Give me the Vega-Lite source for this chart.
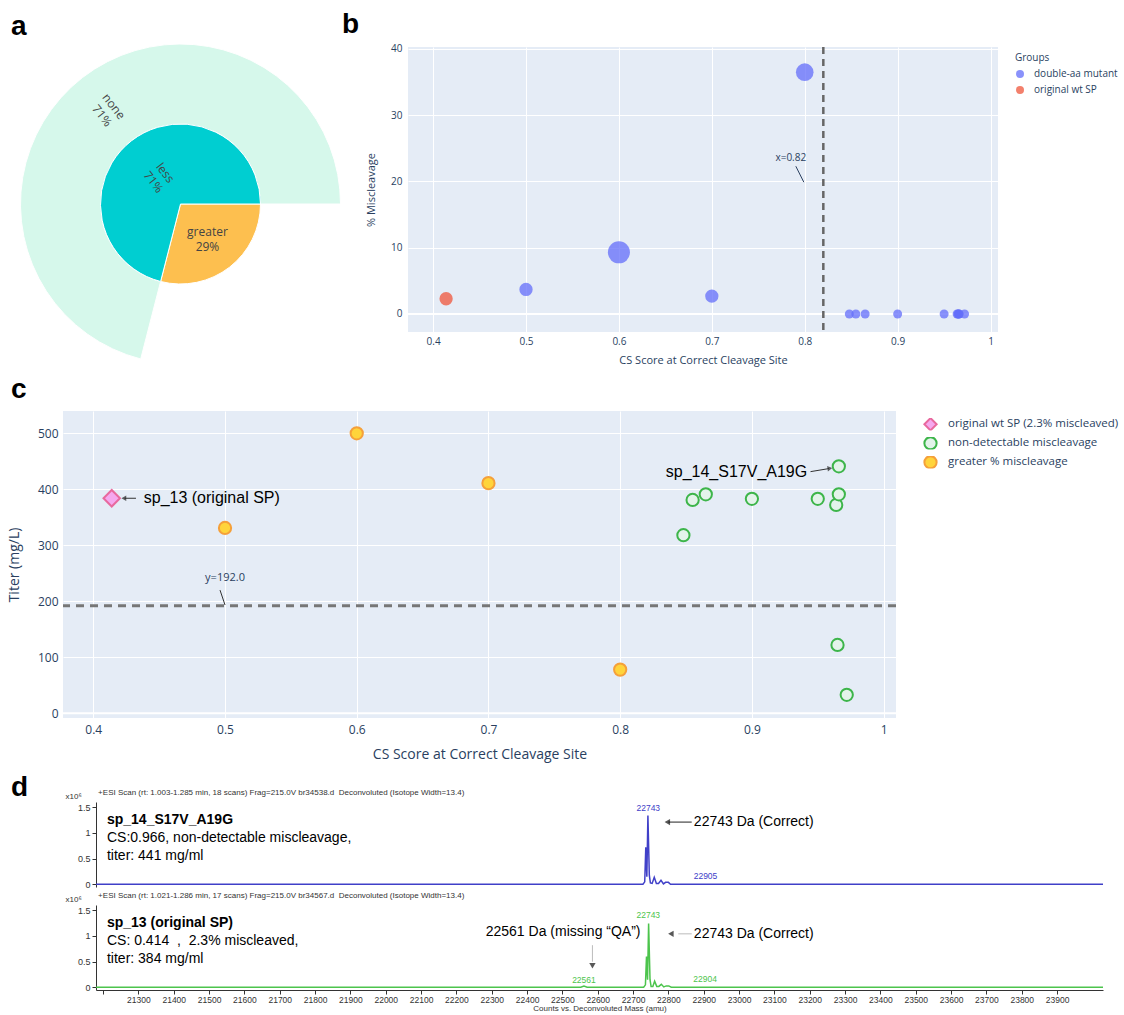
{
  "$schema": "https://vega.github.io/schema/vega-lite/v6.json",
  "background": "white",
  "padding": {"left": 7, "top": 10, "right": 0, "bottom": 0},
  "config": {
    "view": {"stroke": null},
    "font": "Open Sans",
    "axis": {"domain": false, "ticks": false, "gridColor": "white", "gridWidth": 1, "labelColor": "#2a3f5f", "titleColor": "#2a3f5f", "titleFontWeight": "normal", "labelFont": "Open Sans", "titleFont": "Open Sans"},
    "axisX": {"labelOverlap": false},
    "legend": {"labelFont": "Open Sans", "titleFont": "Open Sans"},
    "title": {"font": "Liberation Sans", "fontSize": 28, "fontWeight": "bold", "anchor": "start", "frame": "group", "baseline": "alphabetic", "color": "black"}
  },
  "datasets": {
    "cpts": [
      {"cs": 0.414, "titer": 384, "group": "original wt SP (2.3% miscleaved)"},
      {"cs": 0.848, "titer": 318, "group": "non-detectable miscleavage"},
      {"cs": 0.855, "titer": 381, "group": "non-detectable miscleavage"},
      {"cs": 0.865, "titer": 391, "group": "non-detectable miscleavage"},
      {"cs": 0.9, "titer": 383, "group": "non-detectable miscleavage"},
      {"cs": 0.95, "titer": 383, "group": "non-detectable miscleavage"},
      {"cs": 0.964, "titer": 372, "group": "non-detectable miscleavage"},
      {"cs": 0.966, "titer": 391, "group": "non-detectable miscleavage"},
      {"cs": 0.966, "titer": 441, "group": "non-detectable miscleavage"},
      {"cs": 0.965, "titer": 122, "group": "non-detectable miscleavage"},
      {"cs": 0.972, "titer": 33, "group": "non-detectable miscleavage"},
      {"cs": 0.5, "titer": 331, "group": "greater % miscleavage"},
      {"cs": 0.6, "titer": 500, "group": "greater % miscleavage"},
      {"cs": 0.7, "titer": 411, "group": "greater % miscleavage"},
      {"cs": 0.8, "titer": 78, "group": "greater % miscleavage"}
    ]
  },
  "bounds": "full",
  "spacing": 11,
  "resolve": {"scale": {"x": "independent", "y": "independent", "color": "independent", "fill": "independent", "stroke": "independent", "shape": "independent", "size": "independent", "theta": "independent"}, "legend": {"color": "independent", "fill": "independent", "stroke": "independent", "shape": "independent", "size": "independent"}},
  "vconcat": [
    {
      "bounds": "flush",
      "spacing": 110,
      "resolve": {"scale": {"x": "independent", "y": "independent", "color": "independent", "fill": "independent", "stroke": "independent", "shape": "independent", "size": "independent", "theta": "independent"}, "legend": {"color": "independent", "fill": "independent", "stroke": "independent", "shape": "independent", "size": "independent"}},
      "hconcat": [
        {
          "width": 235,
          "height": 314,
          "title": {"text": "a", "dx": -52, "offset": 1},
          "data": {"values": [
            {"ring": "inner", "label": "greater", "value": 29},
            {"ring": "inner", "label": "less", "value": 71},
            {"ring": "outer", "label": "none", "value": 71}
          ]},
          "transform": [{"calculate": "datum.label + '\\n' + datum.value + '%'", "as": "txt"}],
          "layer": [
            {
              "transform": [{"filter": "datum.ring === 'outer'"}],
              "mark": {"type": "arc", "radius": 160, "radius2": 80, "stroke": "white", "strokeWidth": 1},
              "encoding": {
                "theta": {"field": "value", "type": "quantitative", "stack": true, "scale": {"domain": [0, 71], "range": [3.3929, 7.854]}},
                "color": {"field": "label", "type": "nominal", "scale": {"domain": ["greater", "less", "none"], "range": ["#FDBF4F", "#00CED1", "#D6F8EB"]}, "legend": null}
              }
            },
            {
              "transform": [{"filter": "datum.ring === 'outer'"}],
              "mark": {"type": "text", "radius": 118, "angle": 52, "dy": -7, "lineHeight": 15, "lineBreak": "\n", "fontSize": 12, "color": "#444", "font": "Open Sans"},
              "encoding": {
                "theta": {"field": "value", "type": "quantitative", "stack": true, "scale": {"domain": [0, 71], "range": [3.3929, 7.854]}},
                "text": {"field": "txt"}
              }
            },
            {
              "transform": [{"filter": "datum.ring === 'inner'"}],
              "mark": {"type": "arc", "radius": 80, "stroke": "white", "strokeWidth": 1},
              "encoding": {
                "theta": {"field": "value", "type": "quantitative", "stack": true, "scale": {"domain": [0, 100], "range": [1.5708, 7.854]}},
                "order": {"field": "label", "sort": "ascending"},
                "color": {"field": "label", "type": "nominal", "scale": {"domain": ["greater", "less", "none"], "range": ["#FDBF4F", "#00CED1", "#D6F8EB"]}, "legend": null}
              }
            },
            {
              "transform": [{"filter": "datum.ring === 'inner'"}],
              "mark": {"type": "text", "radius": 34, "angle": 52, "dy": -7, "lineHeight": 15, "lineBreak": "\n", "fontSize": 12, "color": "#444", "font": "Open Sans"},
              "encoding": {
                "theta": {"field": "value", "type": "quantitative", "stack": true, "scale": {"domain": [0, 100], "range": [1.5708, 7.854]}},
                "order": {"field": "label", "sort": "ascending"},
                "text": {"condition": {"test": "datum.label === 'less'", "field": "txt"}, "value": ""}
              }
            },
            {
              "transform": [{"filter": "datum.ring === 'inner'"}],
              "mark": {"type": "text", "radius": 44, "angle": 0, "dy": -7, "lineHeight": 15, "lineBreak": "\n", "fontSize": 12, "color": "#444", "font": "Open Sans"},
              "encoding": {
                "theta": {"field": "value", "type": "quantitative", "stack": true, "scale": {"domain": [0, 100], "range": [1.5708, 7.854]}},
                "order": {"field": "label", "sort": "ascending"},
                "text": {"condition": {"test": "datum.label === 'greater'", "field": "txt"}, "value": ""}
              }
            }
          ],
          "resolve": {"scale": {"theta": "independent"}}
        },
        {
          "width": 590,
          "height": 285,
          "view": {"fill": "#E5ECF6", "stroke": null},
          "title": {"text": "b", "dx": -66, "offset": 5},
          "layer": [
            {
              "data": {"values": [{}]},
              "mark": {"type": "rule", "color": "white", "strokeWidth": 2},
              "encoding": {"y": {"datum": 0, "type": "quantitative", "scale": {"domain": [-2.72, 40.3], "nice": false, "zero": false}}}
            },
            {
              "data": {"values": [
                {"cs": 0.414, "mis": 2.3, "group": "original wt SP", "bubble": 2},
                {"cs": 0.5, "mis": 3.7, "group": "double-aa mutant", "bubble": 2},
                {"cs": 0.6, "mis": 9.3, "group": "double-aa mutant", "bubble": 4},
                {"cs": 0.7, "mis": 2.7, "group": "double-aa mutant", "bubble": 2},
                {"cs": 0.8, "mis": 36.5, "group": "double-aa mutant", "bubble": 3},
                {"cs": 0.848, "mis": 0, "group": "double-aa mutant", "bubble": 1},
                {"cs": 0.855, "mis": 0, "group": "double-aa mutant", "bubble": 1},
                {"cs": 0.865, "mis": 0, "group": "double-aa mutant", "bubble": 1},
                {"cs": 0.9, "mis": 0, "group": "double-aa mutant", "bubble": 1},
                {"cs": 0.95, "mis": 0, "group": "double-aa mutant", "bubble": 1},
                {"cs": 0.964, "mis": 0, "group": "double-aa mutant", "bubble": 1},
                {"cs": 0.965, "mis": 0, "group": "double-aa mutant", "bubble": 1},
                {"cs": 0.966, "mis": 0, "group": "double-aa mutant", "bubble": 1},
                {"cs": 0.966, "mis": 0, "group": "double-aa mutant", "bubble": 1},
                {"cs": 0.972, "mis": 0, "group": "double-aa mutant", "bubble": 1}
              ]},
              "mark": {"type": "circle", "opacity": 0.75},
              "encoding": {
                "x": {"field": "cs", "type": "quantitative", "scale": {"domain": [0.373, 1.008], "nice": false, "zero": false},
                      "axis": {"values": [0.4, 0.5, 0.6, 0.7, 0.8, 0.9, 1], "format": "~g", "title": "CS Score at Correct Cleavage Site", "labelFontSize": 10, "titleFontSize": 11, "labelPadding": 4, "titlePadding": 8, "grid": true}},
                "y": {"field": "mis", "type": "quantitative", "scale": {"domain": [-2.72, 40.3], "nice": false, "zero": false},
                      "axis": {"values": [0, 5, 10, 15, 20, 25, 30, 35, 40], "title": "% Miscleavage", "labelFontSize": 10, "titleFontSize": 11, "labelPadding": 6, "titlePadding": 14, "grid": true}},
                "color": {"field": "group", "type": "nominal", "scale": {"domain": ["double-aa mutant", "original wt SP"], "range": ["#636EFA", "#EF553B"]},
                          "legend": {"title": "Groups", "orient": "right", "offset": 11, "padding": 6, "titleFontSize": 10, "labelFontSize": 10, "titleFontWeight": "normal", "symbolSize": 64, "symbolOpacity": 0.75, "rowPadding": 6, "titlePadding": 6, "labelOffset": 9, "titleColor": "#2a3f5f", "labelColor": "#2a3f5f", "symbolStrokeWidth": 0}},
                "size": {"field": "bubble", "type": "quantitative", "scale": {"type": "threshold", "domain": [1.5, 2.5, 3.5], "range": [81, 177, 310, 484]}, "legend": null}
              }
            },
            {
              "data": {"values": [{}]},
              "mark": {"type": "rule", "strokeDash": [7, 5], "strokeWidth": 2.5, "color": "#666"},
              "encoding": {"x": {"datum": 0.82, "type": "quantitative", "scale": {"domain": [0.373, 1.008], "nice": false, "zero": false}}}
            },
            {
              "data": {"values": [{"cs": 0.7904, "mis": 22.3, "cs2": 0.799, "mis2": 19.9}]},
              "mark": {"type": "rule", "color": "#2a3f5f", "strokeWidth": 1},
              "encoding": {
                "x": {"field": "cs", "type": "quantitative", "scale": {"domain": [0.373, 1.008], "nice": false, "zero": false}},
                "y": {"field": "mis", "type": "quantitative", "scale": {"domain": [-2.72, 40.3], "nice": false, "zero": false}},
                "x2": {"field": "cs2"},
                "y2": {"field": "mis2"}
              }
            },
            {
              "data": {"values": [{"cs": 0.785, "mis": 23.6, "label": "x=0.82"}]},
              "mark": {"type": "text", "fontSize": 10, "color": "#2a3f5f", "font": "Open Sans"},
              "encoding": {
                "x": {"field": "cs", "type": "quantitative", "scale": {"domain": [0.373, 1.008], "nice": false, "zero": false}},
                "y": {"field": "mis", "type": "quantitative", "scale": {"domain": [-2.72, 40.3], "nice": false, "zero": false}},
                "text": {"field": "label"}
              }
            }
          ]
        }
      ]
    },
    {
      "bounds": "flush",
      "spacing": 84,
      "resolve": {"scale": {"x": "independent", "y": "independent", "color": "independent", "fill": "independent", "stroke": "independent", "shape": "independent", "size": "independent"}, "legend": {"color": "independent", "fill": "independent", "stroke": "independent", "shape": "independent", "size": "independent"}},
      "vconcat": [
        {
          "width": 833,
          "height": 307,
          "view": {"fill": "#E5ECF6", "stroke": null},
          "title": {"text": "c", "dx": -52, "offset": 7},
          "layer": [
            {
              "data": {"values": [{}]},
              "mark": {"type": "rule", "color": "white", "strokeWidth": 2},
              "encoding": {"y": {"datum": 0, "type": "quantitative", "scale": {"domain": [-8.4, 539.8], "nice": false, "zero": false}}}
            },
            {
              "data": {"values": [{}]},
              "mark": {"type": "rule", "strokeDash": [8, 6], "strokeWidth": 3, "color": "#777"},
              "encoding": {"y": {"datum": 192, "type": "quantitative", "scale": {"domain": [-8.4, 539.8], "nice": false, "zero": false}}}
            },
            {
              "data": {"name": "cpts"},
              "transform": [{"filter": "datum.group !== 'original wt SP (2.3% miscleaved)'"}],
              "mark": {"type": "point", "filled": true, "strokeWidth": 2, "opacity": 1, "size": 150},
              "encoding": {
                "x": {"field": "cs", "type": "quantitative", "scale": {"domain": [0.377, 1.0094], "nice": false, "zero": false},
                      "axis": {"values": [0.4, 0.5, 0.6, 0.7, 0.8, 0.9, 1], "format": "~g", "title": "CS Score at Correct Cleavage Site", "labelFontSize": 12, "titleFontSize": 14, "labelPadding": 6, "titlePadding": 12, "grid": true}},
                "y": {"field": "titer", "type": "quantitative", "scale": {"domain": [-8.4, 539.8], "nice": false, "zero": false},
                      "axis": {"values": [0, 100, 200, 300, 400, 500], "title": "Titer (mg/L)", "labelFontSize": 12, "titleFontSize": 14, "labelPadding": 5, "titlePadding": 16, "grid": true}},
                "color": {"field": "group", "type": "nominal",
                         "scale": {"domain": ["original wt SP (2.3% miscleaved)", "non-detectable miscleavage", "greater % miscleavage"], "range": ["#F5A8EE", "#E3F3EA", "#FFD43B"]},
                         "legend": {"title": null, "orient": "right", "offset": 20, "padding": 7, "labelFontSize": 11.5, "labelColor": "#2a3f5f", "symbolSize": 150, "symbolStrokeWidth": 2, "rowPadding": 6, "clipHeight": 12.5, "labelOffset": 10, "labelLimit": 300}},
                "stroke": {"field": "group", "type": "nominal",
                           "scale": {"domain": ["original wt SP (2.3% miscleaved)", "non-detectable miscleavage", "greater % miscleavage"], "range": ["#E8699E", "#3DB54A", "#F5A03A"]},
                           "legend": {"title": null, "orient": "right", "offset": 20, "padding": 7, "labelFontSize": 11.5, "labelColor": "#2a3f5f", "symbolSize": 150, "symbolStrokeWidth": 2, "rowPadding": 6, "clipHeight": 12.5, "labelOffset": 10, "labelLimit": 300}},
                "shape": {"field": "group", "type": "nominal",
                          "scale": {"domain": ["original wt SP (2.3% miscleaved)", "non-detectable miscleavage", "greater % miscleavage"], "range": ["diamond", "circle", "circle"]},
                          "legend": {"title": null, "orient": "right", "offset": 20, "padding": 7, "labelFontSize": 11.5, "labelColor": "#2a3f5f", "symbolSize": 150, "symbolStrokeWidth": 2, "rowPadding": 6, "clipHeight": 12.5, "labelOffset": 10, "labelLimit": 300}}
              }
            },
            {
              "data": {"name": "cpts"},
              "transform": [{"filter": "datum.group === 'original wt SP (2.3% miscleaved)'"}],
              "mark": {"type": "point", "filled": true, "strokeWidth": 2, "opacity": 1, "size": 270},
              "encoding": {
                "x": {"field": "cs", "type": "quantitative", "scale": {"domain": [0.377, 1.0094], "nice": false, "zero": false}},
                "y": {"field": "titer", "type": "quantitative", "scale": {"domain": [-8.4, 539.8], "nice": false, "zero": false}},
                "color": {"field": "group", "type": "nominal",
                         "scale": {"domain": ["original wt SP (2.3% miscleaved)", "non-detectable miscleavage", "greater % miscleavage"], "range": ["#F5A8EE", "#E3F3EA", "#FFD43B"]}},
                "stroke": {"field": "group", "type": "nominal",
                           "scale": {"domain": ["original wt SP (2.3% miscleaved)", "non-detectable miscleavage", "greater % miscleavage"], "range": ["#E8699E", "#3DB54A", "#F5A03A"]}},
                "shape": {"field": "group", "type": "nominal",
                          "scale": {"domain": ["original wt SP (2.3% miscleaved)", "non-detectable miscleavage", "greater % miscleavage"], "range": ["diamond", "circle", "circle"]}}
              }
            },
            {
              "data": {"values": [{"cs": 0.4962, "titer": 220, "cs2": 0.5, "titer2": 193.4}, {"cs": 0.4324, "titer": 384, "cs2": 0.4238, "titer2": 384}, {"cs": 0.9445, "titer": 431.5, "cs2": 0.9585, "titer2": 437}]},
              "mark": {"type": "rule", "color": "#333", "strokeWidth": 1},
              "encoding": {
                "x": {"field": "cs", "type": "quantitative", "scale": {"domain": [0.377, 1.0094], "nice": false, "zero": false}},
                "y": {"field": "titer", "type": "quantitative", "scale": {"domain": [-8.4, 539.8], "nice": false, "zero": false}},
                "x2": {"field": "cs2"},
                "y2": {"field": "titer2"}
              }
            },
            {
              "data": {"values": [{"cs": 0.4232, "titer": 384}]},
              "mark": {"type": "point", "shape": "triangle-left", "filled": true, "size": 30, "color": "#222"},
              "encoding": {
                "x": {"field": "cs", "type": "quantitative", "scale": {"domain": [0.377, 1.0094], "nice": false, "zero": false}},
                "y": {"field": "titer", "type": "quantitative", "scale": {"domain": [-8.4, 539.8], "nice": false, "zero": false}}
              }
            },
            {
              "data": {"values": [{"cs": 0.9592, "titer": 437.3}]},
              "mark": {"type": "point", "shape": "triangle-right", "filled": true, "size": 30, "color": "#222", "angle": -8},
              "encoding": {
                "x": {"field": "cs", "type": "quantitative", "scale": {"domain": [0.377, 1.0094], "nice": false, "zero": false}},
                "y": {"field": "titer", "type": "quantitative", "scale": {"domain": [-8.4, 539.8], "nice": false, "zero": false}}
              }
            },
            {
              "data": {"values": [{"cs": 0.5, "titer": 241.6, "label": "y=192.0"}]},
              "mark": {"type": "text", "fontSize": 11, "color": "#2a3f5f", "font": "Open Sans"},
              "encoding": {
                "x": {"field": "cs", "type": "quantitative", "scale": {"domain": [0.377, 1.0094], "nice": false, "zero": false}},
                "y": {"field": "titer", "type": "quantitative", "scale": {"domain": [-8.4, 539.8], "nice": false, "zero": false}},
                "text": {"field": "label"}
              }
            },
            {
              "data": {"values": [{"cs": 0.4383, "titer": 384, "label": "sp_13 (original SP)"}]},
              "mark": {"type": "text", "fontSize": 16, "color": "black", "font": "Liberation Sans", "align": "left", "baseline": "middle"},
              "encoding": {
                "x": {"field": "cs", "type": "quantitative", "scale": {"domain": [0.377, 1.0094], "nice": false, "zero": false}},
                "y": {"field": "titer", "type": "quantitative", "scale": {"domain": [-8.4, 539.8], "nice": false, "zero": false}},
                "text": {"field": "label"}
              }
            },
            {
              "data": {"values": [{"cs": 0.942, "titer": 431, "label": "sp_14_S17V_A19G"}]},
              "mark": {"type": "text", "fontSize": 16, "color": "black", "font": "Liberation Sans", "align": "right", "baseline": "middle"},
              "encoding": {
                "x": {"field": "cs", "type": "quantitative", "scale": {"domain": [0.377, 1.0094], "nice": false, "zero": false}},
                "y": {"field": "titer", "type": "quantitative", "scale": {"domain": [-8.4, 539.8], "nice": false, "zero": false}},
                "text": {"field": "label"}
              }
            }
          ]
        },
        {
          "bounds": "flush",
          "spacing": 32,
          "resolve": {"scale": {"x": "independent", "y": "independent"}},
          "hconcat": [
            {
              "width": 1,
              "height": 1,
              "data": {"values": [{}]},
              "mark": {"type": "point", "opacity": 0}
            },
            {
              "bounds": "flush",
              "spacing": 18,
              "vconcat": [
                {
                  "width": 1007,
                  "height": 85,
                  "title": {"text": "d", "dx": -85, "offset": -13},
                  "encoding": {
                    "x": {"field": "mass", "type": "quantitative", "scale": {"domain": [21180, 24030], "nice": false, "zero": false}, "axis": null},
                    "y": {"field": "inten", "type": "quantitative", "scale": {"domain": [-0.05, 1.6], "nice": false, "zero": false},
                          "axis": {"values": [0, 0.5, 1, 1.5], "format": "~g", "title": "x10⁶", "titleAngle": 0, "titleAlign": "left", "titleBaseline": "alphabetic", "titleX": -31, "titleY": -4, "titleFontSize": 8, "titleFont": "Liberation Sans", "titleColor": "#333", "domain": true, "domainColor": "#333", "ticks": true, "tickColor": "#333", "tickSize": 4, "labelFontSize": 9, "labelFont": "Liberation Sans", "labelColor": "#333", "labelPadding": 2, "grid": false}}
                  },
                  "layer": [
                    {
                      "data": {"values": [
                        {"mass": 21180, "inten": 0.004},
                        {"mass": 22728, "inten": 0.004},
                        {"mass": 22733, "inten": 0.05},
                        {"mass": 22736, "inten": 0.72},
                        {"mass": 22739, "inten": 0.15},
                        {"mass": 22742, "inten": 1.34},
                        {"mass": 22746, "inten": 0.18},
                        {"mass": 22749, "inten": 0.03},
                        {"mass": 22754, "inten": 0.02},
                        {"mass": 22760, "inten": 0.14},
                        {"mass": 22766, "inten": 0.02},
                        {"mass": 22772, "inten": 0.02},
                        {"mass": 22779, "inten": 0.08},
                        {"mass": 22786, "inten": 0.01},
                        {"mass": 22792, "inten": 0.04},
                        {"mass": 22800, "inten": 0.04},
                        {"mass": 22806, "inten": 0.004},
                        {"mass": 24030, "inten": 0.004}
                      ]},
                      "mark": {"type": "line", "color": "#4040C8", "strokeWidth": 1.5}
                    },
                    {
                      "data": {"values": [{"mass": 21186, "inten": 1.74, "label": "+ESI Scan (rt: 1.003-1.285 min, 18 scans) Frag=215.0V br34538.d \u00a0Deconvoluted (Isotope Width=13.4)"}]},
                      "mark": {"type": "text", "fontSize": 8, "color": "#333", "font": "Liberation Sans", "align": "left", "baseline": "alphabetic"},
                      "encoding": {"text": {"field": "label"}}
                    },
                    {
                      "data": {"values": [{"mass": 21211, "inten": 1.26, "label": "sp_14_S17V_A19G"}]},
                      "mark": {"type": "text", "fontSize": 14, "fontWeight": "bold", "color": "black", "font": "Liberation Sans", "align": "left", "baseline": "middle"},
                      "encoding": {"text": {"field": "label"}}
                    },
                    {
                      "data": {"values": [
                        {"mass": 21211, "inten": 0.91, "label": "CS:0.966, non-detectable miscleavage,"},
                        {"mass": 21211, "inten": 0.56, "label": "titer: 441 mg/ml"},
                        {"mass": 22872, "inten": 1.21, "label": "22743 Da (Correct)"}
                      ]},
                      "mark": {"type": "text", "fontSize": 14, "color": "black", "font": "Liberation Sans", "align": "left", "baseline": "middle"},
                      "encoding": {"text": {"field": "label"}}
                    },
                    {
                      "data": {"values": [
                        {"mass": 22743, "inten": 1.38, "label": "22743"},
                        {"mass": 22905, "inten": 0.06, "label": "22905"}
                      ]},
                      "mark": {"type": "text", "fontSize": 8.5, "color": "#4040C8", "font": "Liberation Sans", "align": "center", "baseline": "bottom"},
                      "encoding": {"text": {"field": "label"}}
                    },
                    {
                      "data": {"values": [{"mass": 22800, "inten": 1.21, "mass2": 22866}]},
                      "mark": {"type": "rule", "color": "#222", "strokeWidth": 1},
                      "encoding": {"x2": {"field": "mass2"}}
                    },
                    {
                      "data": {"values": [{"mass": 22797, "inten": 1.21}]},
                      "mark": {"type": "point", "shape": "triangle-left", "filled": true, "size": 40, "color": "#111"}
                    }
                  ]
                },
                {
                  "width": 1007,
                  "height": 85,
                  "encoding": {
                    "x": {"field": "mass", "type": "quantitative", "scale": {"domain": [21180, 24030], "nice": false, "zero": false},
                          "axis": {"values": [21200, 21300, 21400, 21500, 21600, 21700, 21800, 21900, 22000, 22100, 22200, 22300, 22400, 22500, 22600, 22700, 22800, 22900, 23000, 23100, 23200, 23300, 23400, 23500, 23600, 23700, 23800, 23900], "format": "d", "labelExpr": "datum.value < 21250 ? '' : datum.label", "title": "Counts vs. Deconvoluted Mass (amu)", "titleFontSize": 8, "titleFont": "Liberation Sans", "titleFontWeight": "normal", "titleColor": "#333", "titlePadding": 1, "domain": true, "domainColor": "#333", "ticks": true, "tickColor": "#333", "tickSize": 4, "labelFontSize": 8.5, "labelFont": "Liberation Sans", "labelColor": "#333", "labelPadding": 1, "grid": false, "labelOverlap": false, "labelSeparation": 0, "labelFlush": false}},
                    "y": {"field": "inten", "type": "quantitative", "scale": {"domain": [-0.05, 1.6], "nice": false, "zero": false},
                          "axis": {"values": [0, 0.5, 1, 1.5], "format": "~g", "title": "x10⁶", "titleAngle": 0, "titleAlign": "left", "titleBaseline": "alphabetic", "titleX": -31, "titleY": -4, "titleFontSize": 8, "titleFont": "Liberation Sans", "titleColor": "#333", "domain": true, "domainColor": "#333", "ticks": true, "tickColor": "#333", "tickSize": 4, "labelFontSize": 9, "labelFont": "Liberation Sans", "labelColor": "#333", "labelPadding": 2, "grid": false}}
                  },
                  "layer": [
                    {
                      "data": {"values": [
                        {"mass": 21180, "inten": 0.004},
                        {"mass": 22552, "inten": 0.004},
                        {"mass": 22561, "inten": 0.025},
                        {"mass": 22570, "inten": 0.004},
                        {"mass": 22730, "inten": 0.004},
                        {"mass": 22735, "inten": 0.05},
                        {"mass": 22738, "inten": 0.6},
                        {"mass": 22741, "inten": 0.15},
                        {"mass": 22744, "inten": 1.24},
                        {"mass": 22748, "inten": 0.15},
                        {"mass": 22751, "inten": 0.02},
                        {"mass": 22756, "inten": 0.02},
                        {"mass": 22761, "inten": 0.12},
                        {"mass": 22767, "inten": 0.02},
                        {"mass": 22773, "inten": 0.02},
                        {"mass": 22780, "inten": 0.06},
                        {"mass": 22787, "inten": 0.01},
                        {"mass": 22794, "inten": 0.03},
                        {"mass": 22801, "inten": 0.03},
                        {"mass": 22808, "inten": 0.004},
                        {"mass": 24030, "inten": 0.004}
                      ]},
                      "mark": {"type": "line", "color": "#4CC44C", "strokeWidth": 1.5}
                    },
                    {
                      "data": {"values": [{"mass": 21186, "inten": 1.74, "label": "+ESI Scan (rt: 1.021-1.286 min, 17 scans) Frag=215.0V br34567.d \u00a0Deconvoluted (Isotope Width=13.4)"}]},
                      "mark": {"type": "text", "fontSize": 8, "color": "#333", "font": "Liberation Sans", "align": "left", "baseline": "alphabetic"},
                      "encoding": {"text": {"field": "label"}}
                    },
                    {
                      "data": {"values": [{"mass": 21211, "inten": 1.26, "label": "sp_13 (original SP)"}]},
                      "mark": {"type": "text", "fontSize": 14, "fontWeight": "bold", "color": "black", "font": "Liberation Sans", "align": "left", "baseline": "middle"},
                      "encoding": {"text": {"field": "label"}}
                    },
                    {
                      "data": {"values": [
                        {"mass": 21211, "inten": 0.91, "label": "CS: 0.414\u00a0\u00a0,\u00a0\u00a02.3% miscleaved,"},
                        {"mass": 21211, "inten": 0.56, "label": "titer: 384 mg/ml"},
                        {"mass": 22872, "inten": 1.04, "label": "22743 Da (Correct)"}
                      ]},
                      "mark": {"type": "text", "fontSize": 14, "color": "black", "font": "Liberation Sans", "align": "left", "baseline": "middle"},
                      "encoding": {"text": {"field": "label"}}
                    },
                    {
                      "data": {"values": [{"mass": 22502, "inten": 1.08, "label": "22561 Da (missing “QA”)"}]},
                      "mark": {"type": "text", "fontSize": 14, "color": "black", "font": "Liberation Sans", "align": "center", "baseline": "middle"},
                      "encoding": {"text": {"field": "label"}}
                    },
                    {
                      "data": {"values": [
                        {"mass": 22743, "inten": 1.3, "label": "22743"},
                        {"mass": 22561, "inten": 0.05, "label": "22561"},
                        {"mass": 22904, "inten": 0.06, "label": "22904"}
                      ]},
                      "mark": {"type": "text", "fontSize": 8.5, "color": "#4CC44C", "font": "Liberation Sans", "align": "center", "baseline": "bottom"},
                      "encoding": {"text": {"field": "label"}}
                    },
                    {
                      "data": {"values": [
                        {"mass": 22828, "inten": 1.04, "mass2": 22866, "inten2": 1.04},
                        {"mass": 22585, "inten": 0.82, "mass2": 22585, "inten2": 0.5}
                      ]},
                      "mark": {"type": "rule", "color": "#bbb", "strokeWidth": 1},
                      "encoding": {"x2": {"field": "mass2"}, "y2": {"field": "inten2"}}
                    },
                    {
                      "data": {"values": [{"mass": 22807, "inten": 1.04}]},
                      "mark": {"type": "point", "shape": "triangle-left", "filled": true, "size": 40, "color": "#111"}
                    },
                    {
                      "data": {"values": [{"mass": 22585, "inten": 0.42}]},
                      "mark": {"type": "point", "shape": "triangle-down", "filled": true, "size": 40, "color": "#111"}
                    }
                  ]
                }
              ]
            }
          ]
        }
      ]
    }
  ]
}
